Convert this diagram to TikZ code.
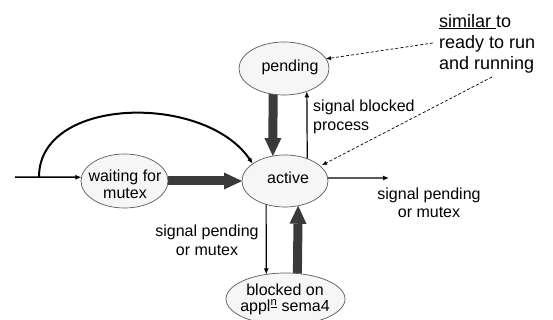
\documentclass[tikz,border=0pt]{standalone}
\usepackage{fontspec}
\setmainfont{Liberation Sans}
\usetikzlibrary{arrows.meta,shapes.geometric}
\definecolor{statefill}{HTML}{F6F6F6}
\definecolor{stateline}{HTML}{5A5A5A}
\definecolor{flowgray}{HTML}{3A3A3A}
\pgfdeclarelayer{bg}
\pgfsetlayers{bg,main}
\begin{document}
\begin{tikzpicture}[x=1pt,y=-1pt,
  state/.style={ellipse, draw=stateline, line width=0.7pt, fill=statefill, inner sep=0pt, outer sep=0pt},
  stext/.style={inner sep=0pt, align=center, font=\fontsize{16pt}{16.6pt}\selectfont},
  lbl/.style={inner sep=0pt, font=\fontsize{16pt}{18.5pt}\selectfont},
  bigflow/.style={draw=flowgray, line width=9pt, -{Triangle[width=17pt,length=18pt,line width=0pt]}},
  flow/.style={line width=1.2pt, -{Latex[length=6pt,width=5pt]}},
  note/.style={dash pattern=on 3pt off 2pt, line width=0.7pt, -{Latex[length=5pt,width=4pt]}}]
\useasboundingbox (0,0) rectangle (553,320);

% states
\node[state, minimum width=90pt, minimum height=53pt] (pend) at (284,68.5) {};
\node[state, minimum width=86pt, minimum height=52pt] (act) at (285,181) {};
\node[state, minimum width=87pt, minimum height=54pt] (wait) at (124.5,181) {};
\node[state, minimum width=119pt, minimum height=52pt] (blk) at (285.5,299) {};

% state names
\node[stext] (pend-t) at (290,66.9) {pending};
\node[stext] (act-t) at (288,177.3) {active};
\node[stext] (wait-t) at (125,184.2) {waiting for\\mutex};
\node[stext] (blk-t) at (285,299.2) {blocked on\\appl\textsuperscript{\underline{n}} sema4};

% transition labels
\node[lbl, anchor=west, align=left] (sigblk) at (313,116.9) {signal blocked\\process};
\node[lbl, align=center] (sigpend-r) at (429,203) {signal pending\\or mutex};
\node[lbl, align=center] (sigpend-l) at (207,240.2) {signal pending\\or mutex};
\node[inner sep=0pt, anchor=west, align=left, font=\fontsize{18pt}{21pt}\selectfont] (similar) at (439,43.4) {\underline{similar }to\\ready to run\\and running};

% free ends
\coordinate (entry) at (15,177);
\coordinate (split) at (39,177);
\coordinate (exit) at (389,178);
\coordinate (note1) at (433,43);
\coordinate (note2) at (492,77);

\begin{pgfonlayer}{bg}
\draw[bigflow] (pend.247) -- (act.116);
\draw[bigflow] (wait.east) -- (act.west);
\draw[bigflow] (blk.65) -- (act.298);
\draw[flow] (act.45) -- (pend.315);
\draw[flow] (act.231) -- (blk.128);
\draw[flow] (act.4) -- (exit);
\draw[line width=1.5pt, -{Latex[length=6pt,width=5pt]}] (entry) -- (wait.175);
\draw[line width=2pt, -{Latex[length=6pt,width=5pt]}] (split) .. controls (39,96) and (205,93) .. (act.152);
\draw[note] (note1) -- (pend.13);
\draw[note, shorten >=2pt] (note2) -- (act.23);
\end{pgfonlayer}
\end{tikzpicture}
\end{document}
